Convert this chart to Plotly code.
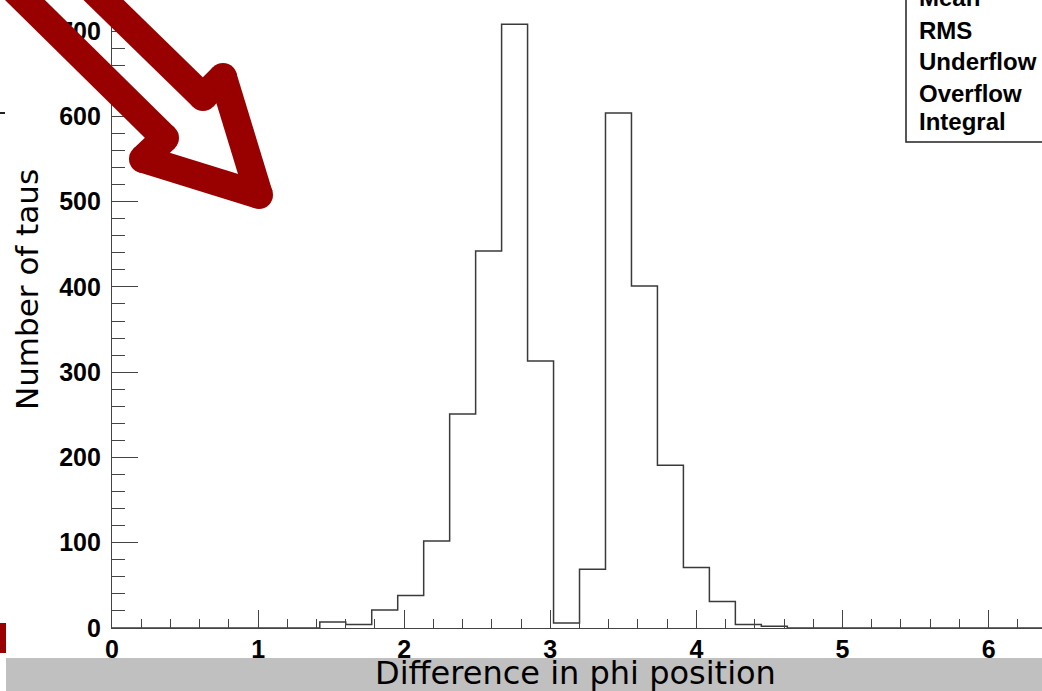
import numpy as np
import plotly.graph_objects as go

# ---------------- data ----------------
x_min, x_max, n_bins = 0.0, 6.4, 36
counts = [0, 0, 0, 0, 0, 0, 0, 0,
          7, 4, 21, 38, 102, 251, 442, 708, 313, 6,
          69, 604, 401, 191, 71, 31, 4, 2,
          0, 0, 0, 0, 0, 0, 0, 0, 0, 0]
x_title = "Difference in phi position"
y_title = "Number of taus"
stats_labels = ["Mean", "RMS", "Underflow", "Overflow", "Integral"]
x_ticks = [0, 1, 2, 3, 4, 5, 6]
y_ticks = [0, 100, 200, 300, 400, 500, 600, 700]

edges = np.linspace(x_min, x_max, n_bins + 1)
step_x = list(edges)
step_y = list(counts) + [counts[-1]]

# ---------------- geometry (pixels) ----------------
W, H = 1042, 691
L, B_PX = 112, 628          # plot-area left edge and bottom edge (pixels)
R = W
X_RANGE = [0, (R - L) / 146.1]
Y_RANGE = [0, B_PX / 0.8527]

def px(x):
    return (x - L) / (R - L)

def py(y):
    return (B_PX - y) / B_PX

fig = go.Figure()
fig.add_trace(go.Scatter(
    x=step_x, y=step_y, mode="lines", line_shape="hv",
    line=dict(color="#3a3a3a", width=1.5), hoverinfo="skip", showlegend=False,
))

shapes = []
annotations = []

# stats box (cropped at top-right)
shapes.append(dict(type="rect", xref="paper", yref="paper",
                   x0=px(906), x1=px(1060), y0=py(142), y1=py(-20),
                   line=dict(color="#222222", width=1.5), fillcolor="white", layer="above"))
for lab, yc in zip(stats_labels, [-2, 30.5, 61, 94, 122]):
    annotations.append(dict(text=lab, xref="paper", yref="paper", x=px(917), y=py(yc),
                            xanchor="left", yanchor="middle", showarrow=False,
                            font=dict(family="Liberation Sans", size=24, color="black", weight="bold")))

# decorative red arrow (outline drawn with thick strokes and round joins)
red = "#990000"
lw = 28
arrow_pts = [(-38, -62), (165, 138), (143, 159), (259, 195), (223, 77), (203, 97), (42, -60)]
for (xa, ya), (xb, yb) in zip(arrow_pts[:-1], arrow_pts[1:]):
    shapes.append(dict(type="line", xref="paper", yref="paper",
                       x0=px(xa), y0=py(ya), x1=px(xb), y1=py(yb),
                       line=dict(color=red, width=lw), layer="above"))
for (xa, ya) in arrow_pts[1:-1]:
    r = lw / 2
    shapes.append(dict(type="circle", xref="paper", yref="paper",
                       x0=px(xa - r), x1=px(xa + r), y0=py(ya + r), y1=py(ya - r),
                       line=dict(width=0), fillcolor=red, layer="above"))

# small fragments at the left edge
shapes.append(dict(type="rect", xref="paper", yref="paper",
                   x0=px(-5), x1=px(6), y0=py(653), y1=py(623),
                   line=dict(width=0), fillcolor=red, layer="above"))
shapes.append(dict(type="line", xref="paper", yref="paper",
                   x0=px(0), x1=px(5), y0=py(113), y1=py(113),
                   line=dict(color="#222222", width=2), layer="above"))

# grey band at the bottom
shapes.append(dict(type="rect", xref="paper", yref="paper",
                   x0=px(6), x1=px(1060), y0=py(700), y1=py(658),
                   line=dict(width=0), fillcolor="#c0c0c0", layer="above"))

# axis titles
annotations.append(dict(text=x_title, xref="paper", yref="paper", x=px(575), y=py(673),
                        xanchor="center", yanchor="middle", showarrow=False,
                        font=dict(family="DejaVu Sans", size=32, color="black")))
annotations.append(dict(text=y_title, xref="paper", yref="paper", x=px(27), y=py(290),
                        xanchor="center", yanchor="middle", textangle=-90, showarrow=False,
                        font=dict(family="DejaVu Sans", size=31, color="black")))

tick_font = dict(family="Liberation Sans", size=25, color="black", weight="bold")
axis_col = "#444444"

fig.update_layout(
    width=W, height=H,
    margin=dict(l=L, r=W - R, t=0, b=H - B_PX),
    paper_bgcolor="white", plot_bgcolor="white",
    shapes=shapes, annotations=annotations,
    showlegend=False,
    xaxis=dict(range=X_RANGE, tickvals=x_ticks, ticks="inside", ticklen=18, tickwidth=1.3,
               tickcolor=axis_col, showline=True, linecolor=axis_col, linewidth=1.3,
               showgrid=False, zeroline=False, tickfont=tick_font, ticklabelstandoff=-1,
               minor=dict(dtick=0.2, ticks="inside", ticklen=9, tickwidth=1.3,
                          tickcolor=axis_col, showgrid=False)),
    yaxis=dict(range=Y_RANGE, tickvals=y_ticks, ticks="inside", ticklen=26, tickwidth=1.3,
               tickcolor=axis_col, showline=True, linecolor=axis_col, linewidth=1.3,
               showgrid=False, zeroline=False, tickfont=tick_font, ticklabelstandoff=5,
               minor=dict(dtick=20, ticks="inside", ticklen=13, tickwidth=1.3,
                          tickcolor=axis_col, showgrid=False)),
)

fig.write_html("out.html")
